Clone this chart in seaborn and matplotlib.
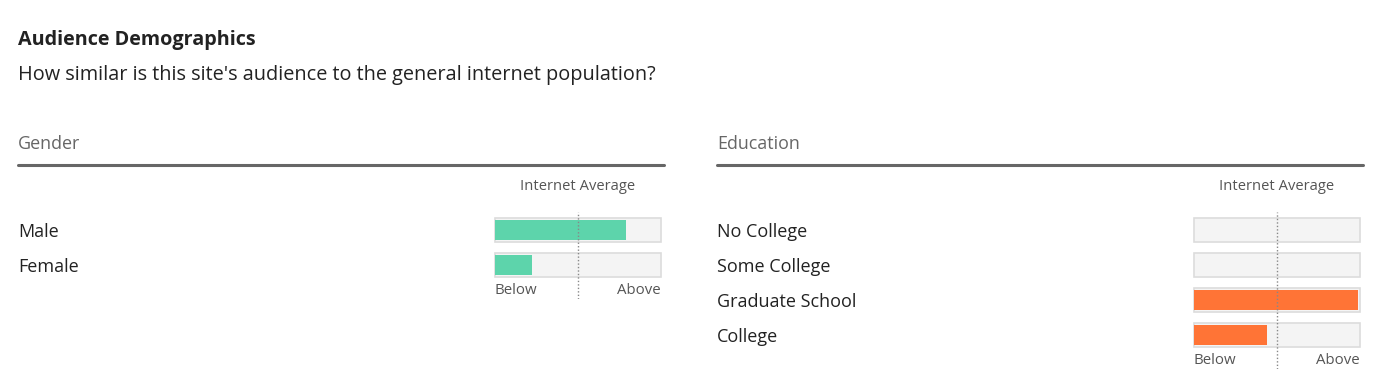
import matplotlib
matplotlib.use('Agg')
import matplotlib.pyplot as plt
import matplotlib.transforms as mtransforms
import seaborn as sns
import pandas as pd

# values: share of bar filled, 0.5 = internet average
gender_labels = ['Male', 'Female']
gender_values = [0.79, 0.22]
education_labels = ['No College', 'Some College', 'Graduate School', 'College']
education_values = [0.0, 0.0, 0.99, 0.44]

sns.set_style('white')
plt.rcParams['font.family'] = ['Open Sans', 'DejaVu Sans']

W, H = 1380, 386
fig = plt.figure(figsize=(W / 100, H / 100), dpi=100)


def fx(x):
    return x / W


def fy(y):
    return 1 - y / H


fig.text(fx(18), fy(40), 'Audience Demographics', fontsize=14.2, fontweight='bold',
         color='#222222', va='center', ha='left')
fig.text(fx(18), fy(75), "How similar is this site's audience to the general internet population?",
         fontsize=14.3, color='#222222', va='center', ha='left')


def panel(x0, title, labels, values, color):
    # section header + rule
    fig.text(fx(x0), fy(144), title, fontsize=12.9, color='#666666', va='center', ha='left')
    fig.add_artist(plt.Line2D([fx(x0), fx(x0 + 646)], [fy(165), fy(165)],
                              color='#666666', lw=2.2, transform=fig.transFigure))

    n = len(labels)
    bx0, bx1 = x0 + 476, x0 + 644
    top, bottom = 212, 230 + 35 * (n - 1) + 34
    ax = fig.add_axes([fx(bx0), fy(bottom), fx(bx1 - bx0), (bottom - top) / H])

    df = pd.DataFrame({'label': labels, 'value': values, 'full': [1.0] * n})
    sns.barplot(data=df, x='full', y='label', color='#f4f4f4', edgecolor='#dcdcdc',
                linewidth=1.2, width=0.68, ax=ax, saturation=1)
    sns.barplot(data=df, x='value', y='label', color=color, linewidth=0,
                width=0.57, ax=ax, saturation=1)
    ax.axvline(0.5, color='#888888', lw=1, ls=(0, (1, 1.5)), zorder=5)

    ax.set_xlim(-0.006, 1.006)
    ax.set_ylim(n - 1 + (bottom - (230 + 35 * (n - 1))) / 35, -(230 - top) / 35)
    ax.set_axis_off()

    # row labels on the left
    trans = mtransforms.blended_transform_factory(fig.transFigure, ax.transData)
    for i, lab in enumerate(labels):
        ax.text(fx(x0), i + 0.05, lab, transform=trans,
                fontsize=13, color='#222222', va='center', ha='left')

    ax.text(0.0, n - 1 + 0.72, 'Below', fontsize=10.8, color='#555555', va='center', ha='left')
    ax.text(1.0, n - 1 + 0.72, 'Above', fontsize=10.8, color='#555555', va='center', ha='right')
    fig.text(fx((bx0 + bx1) / 2), fy(187), 'Internet Average', fontsize=10.6, color='#555555',
             va='center', ha='center')


panel(18, 'Gender', gender_labels, gender_values, '#5dd4ab')
panel(717, 'Education', education_labels, education_values, '#ff7436')

fig.savefig('out.png', dpi=100, facecolor='white')
